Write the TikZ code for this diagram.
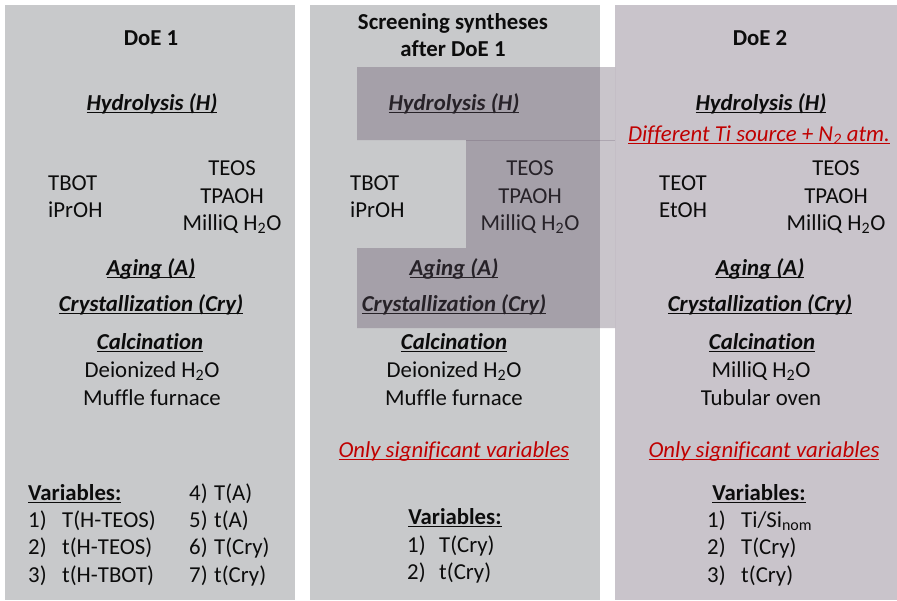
\documentclass[tikz,border=0pt]{standalone}
\usepackage{fontspec}
\setmainfont{Carlito}[Ligatures=NoCommon]
\definecolor{panelc}{RGB}{200,201,203}
\definecolor{rpanelc}{RGB}{201,196,203}
\definecolor{ovc}{RGB}{94,79,100}
\definecolor{redc}{RGB}{192,0,0}
\definecolor{txtc}{RGB}{12,12,12}
\newcommand{\fs}{\fontsize{22.8}{27}\selectfont}
\newcommand{\ulin}[2][1.2pt]{\setbox0\hbox{#2}\rlap{\rule[-3.3pt]{\wd0}{#1}}\box0}
\begin{document}
\begin{tikzpicture}[x=1pt,y=-1pt,
  t/.style={font=\fs, text=txtc, inner sep=0pt, anchor=base},
  tl/.style={t, anchor=base west},
  hd/.style={t, font=\fs\bfseries},
  hdl/.style={hd, anchor=base west},
  st/.style={t, font=\fs\bfseries\itshape},
  rd/.style={t, font=\fs\itshape, text=redc},
  panel/.style={fill=panelc, draw=none},
  rpanel/.style={fill=rpanelc, draw=none},
  overlay/.style={fill=ovc, fill opacity=0.33, draw=none}]
\useasboundingbox (0,0) rectangle (897,600);
\fill[white] (0,0) rectangle (897,600);
% panels
\path[panel] (5,5) rectangle (295,600);
\path[panel] (310,5) rectangle (600,600);
\path[rpanel] (615,5) rectangle (897,600);

% ---- left panel: DoE 1
\node[hd] (d1) at (151,45) {DoE 1};
\node[st] (h1) at (152,110) {\ulin{Hydrolysis (H)}};
\node[tl] (tb1) at (48,190) {TBOT};
\node[tl] (ip1) at (48,217) {iPrOH};
\node[t] (te1) at (232,175) {TEOS};
\node[t] (tp1) at (232,203) {TPAOH};
\node[t] (mq1) at (232,230) {MilliQ H\textsubscript{2}O};
\node[st] (ag1) at (151,275) {\ulin{Aging (A)}};
\node[st] (cr1) at (151,311) {\ulin{Crystallization (Cry)}};
\node[st] (ca1) at (150,349) {\ulin{Calcination}};
\node[t] (di1) at (152,377) {Deionized H\textsubscript{2}O};
\node[t] (mf1) at (152,405) {Muffle furnace};
\node[hdl] (v1) at (28,500) {\ulin[1.6pt]{Variables:}};
\node[tl] (n11) at (28,527) {1)};
\node[tl] (i11) at (62,527) {T(H-TEOS)};
\node[tl] (n12) at (28,554) {2)};
\node[tl] (i12) at (62,554) {t(H-TEOS)};
\node[tl] (n13) at (28,582) {3)};
\node[tl] (i13) at (62,582) {t(H-TBOT)};
\node[tl] (n14) at (189,500) {4)};
\node[tl] (i14) at (214,500) {T(A)};
\node[tl] (n15) at (189,527) {5)};
\node[tl] (i15) at (214,527) {t(A)};
\node[tl] (n16) at (189,554) {6)};
\node[tl] (i16) at (214,554) {T(Cry)};
\node[tl] (n17) at (189,582) {7)};
\node[tl] (i17) at (214,582) {t(Cry)};

% ---- middle panel: screening
\node[hd] (s1) at (453,29) {Screening syntheses};
\node[hd] (s2) at (453,56) {after DoE 1};
\node[st] (h2) at (454,110) {\ulin{Hydrolysis (H)}};
\node[tl] (tb2) at (350,190) {TBOT};
\node[tl] (ip2) at (350,217) {iPrOH};
\node[t] (te2) at (530,175) {TEOS};
\node[t] (tp2) at (530,203) {TPAOH};
\node[t] (mq2) at (530,230) {MilliQ H\textsubscript{2}O};
\node[st] (ag2) at (454,275) {\ulin{Aging (A)}};
\node[st] (cr2) at (454,311) {\ulin{Crystallization (Cry)}};
\node[st] (ca2) at (454,349) {\ulin{Calcination}};
\node[t] (di2) at (454,377) {Deionized H\textsubscript{2}O};
\node[t] (mf2) at (454,405) {Muffle furnace};
\node[rd] (os2) at (454,457) {\ulin{Only significant variables}};
\node[hd] (v2) at (455,524) {\ulin[1.6pt]{Variables:}};
\node[tl] (n21) at (407,552) {1)};
\node[tl] (i21) at (439,552) {T(Cry)};
\node[tl] (n22) at (407,579) {2)};
\node[tl] (i22) at (439,579) {t(Cry)};

% ---- right panel: DoE 2
\node[hd] (d3) at (760,45) {DoE 2};
\node[st] (h3) at (761,110) {\ulin{Hydrolysis (H)}};
\node[rd] (dt3) at (759,141) {\ulin{Different Ti source + N\textsubscript{2} atm.}};
\node[tl] (tb3) at (659,190) {TEOT};
\node[tl] (ip3) at (659,217) {EtOH};
\node[t] (te3) at (836,175) {TEOS};
\node[t] (tp3) at (836,203) {TPAOH};
\node[t] (mq3) at (836,230) {MilliQ H\textsubscript{2}O};
\node[st] (ag3) at (760,275) {\ulin{Aging (A)}};
\node[st] (cr3) at (760,311) {\ulin{Crystallization (Cry)}};
\node[st] (ca3) at (762,349) {\ulin{Calcination}};
\node[t] (di3) at (761,377) {MilliQ H\textsubscript{2}O};
\node[t] (mf3) at (761,405) {Tubular oven};
\node[rd] (os3) at (764,457) {\ulin{Only significant variables}};
\node[hd] (v3) at (759,500) {\ulin[1.6pt]{Variables:}};
\node[tl] (n31) at (707,527) {1)};
\node[tl] (i31) at (741,527) {Ti/Si\textsubscript{nom}};
\node[tl] (n32) at (707,554) {2)};
\node[tl] (i32) at (741,554) {T(Cry)};
\node[tl] (n33) at (707,582) {3)};
\node[tl] (i33) at (741,582) {t(Cry)};

% ---- translucent highlight over the middle panel
\path[overlay] (357,67) -- (615,67) -- (615,328) -- (357,328) -- (357,248)
  -- (466,248) -- (466,140) -- (357,140) -- cycle;
\draw[ovc, draw opacity=0.25, line width=0.8pt] (466,140) -- (615,140);
\end{tikzpicture}
\end{document}
